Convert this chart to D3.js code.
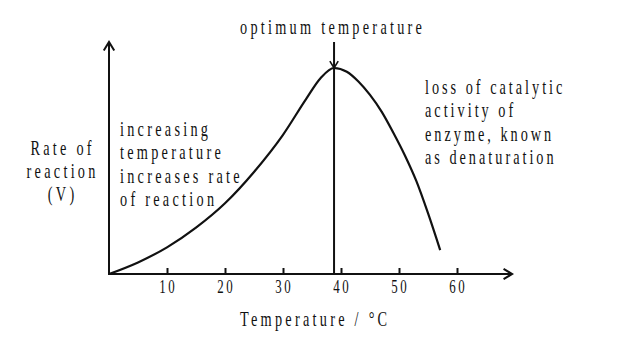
<!DOCTYPE html>
<html>
<head>
<meta charset="utf-8">
<script src="https://cdn.jsdelivr.net/npm/d3@7"></script>
<style>
  html, body { margin: 0; padding: 0; background: #fff; }
  svg { display: block; }
  .lbl { font-family: "Liberation Serif", "Times New Roman", serif; fill: #111; }
</style>
</head>
<body>
<svg id="chart" width="618" height="342"></svg>
<script>
// Enzyme activity vs temperature
const temperature = [0, 5, 10, 15, 20, 25, 30, 34, 36.5, 38.8, 41, 43, 45, 47, 49, 51, 53, 55, 57.1];
const rate        = [0, 0.5, 1.15, 2.0, 3.05, 4.4, 6.0, 7.55, 8.45, 8.88, 8.72, 8.3, 7.72, 7.0, 6.1, 5.12, 4.0, 2.62, 1.03];
const tickValues  = [10, 20, 30, 40, 50, 60];
const optimumTemp = 38.8;
const axisMaxTemp = 69.5;
const axisMaxRate = 10;

const svg = d3.select("#chart");
const x = d3.scaleLinear().domain([0, 60]).range([109, 457]);
const y = d3.scaleLinear().domain([0, axisMaxRate]).range([274, 42]);

const ink = "#111";

// open chevron arrowhead with its tip at (px,py), pointing along angle ang
function chevron(px, py, ang, len) {
  const a1 = ang + Math.PI - 0.55, a2 = ang + Math.PI + 0.55;
  return `M${px + len * Math.cos(a1)},${py + len * Math.sin(a1)}L${px},${py}L${px + len * Math.cos(a2)},${py + len * Math.sin(a2)}`;
}

// axes
svg.append("line").attr("x1", x(0)).attr("y1", y(0)).attr("x2", x(0)).attr("y2", y(axisMaxRate))
  .attr("stroke", ink).attr("stroke-width", 2);
svg.append("line").attr("x1", x(0) - 1).attr("y1", y(0)).attr("x2", x(axisMaxTemp)).attr("y2", y(0))
  .attr("stroke", ink).attr("stroke-width", 2);
svg.append("path").attr("d", chevron(x(0), y(axisMaxRate), -Math.PI / 2, 10))
  .attr("fill", "none").attr("stroke", ink).attr("stroke-width", 2);
svg.append("path").attr("d", chevron(x(axisMaxTemp), y(0), 0, 10))
  .attr("fill", "none").attr("stroke", ink).attr("stroke-width", 2);

// ticks point up from the axis
const xAxis = d3.axisTop(x).tickValues(tickValues).tickSize(6).tickFormat("");
const gx = svg.append("g").attr("transform", `translate(0,${y(0)})`).call(xAxis);
gx.select(".domain").remove();
gx.selectAll(".tick line").attr("stroke", ink).attr("stroke-width", 2);

// narrow, widely tracked serif text
function spacedText(parent, str, cx, cy, opts) {
  const o = Object.assign({ size: 21, sx: 0.68, ls: 4.8, anchor: "start" }, opts || {});
  const g = parent.append("g").attr("transform", `translate(${cx},${cy}) scale(${o.sx},1)`);
  const t = g.append("text").attr("class", "lbl").attr("x", 0).attr("y", 0)
    .attr("text-anchor", o.anchor)
    .style("font-size", o.size + "px")
    .style("letter-spacing", o.ls + "px")
    .text(str);
  if (o.anchor === "middle") t.attr("dx", o.ls / 2);
  return t;
}

tickValues.forEach(v => spacedText(svg, String(v), x(v), 293, { anchor: "middle", size: 19, ls: 4 }));

// rate curve
const pts = temperature.map((t, i) => [x(t), y(rate[i])]);
svg.append("path")
  .attr("d", d3.line().curve(d3.curveMonotoneX)(pts))
  .attr("fill", "none").attr("stroke", ink).attr("stroke-width", 2.2);

// optimum marker
const peakY = y(rate[temperature.indexOf(optimumTemp)]);
svg.append("line").attr("x1", x(optimumTemp)).attr("y1", y(axisMaxRate)).attr("x2", x(optimumTemp)).attr("y2", y(0))
  .attr("stroke", ink).attr("stroke-width", 2);
svg.append("path").attr("d", chevron(x(optimumTemp), peakY, Math.PI / 2, 8))
  .attr("fill", "none").attr("stroke", ink).attr("stroke-width", 1.6);

// annotations
spacedText(svg, "optimum  temperature", 240, 34);
spacedText(svg, "Temperature / °C", 240, 326);

["Rate of", "reaction", "(V)"].forEach((s, i) =>
  spacedText(svg, s, 61, 155 + i * 23, { anchor: "middle" }));

["increasing", "temperature", "increases rate", "of reaction"].forEach((s, i) =>
  spacedText(svg, s, 120, 136 + i * 23.3));

["loss of catalytic", "activity of", "enzyme, known", "as denaturation"].forEach((s, i) =>
  spacedText(svg, s, 425, 94 + i * 23.3, { ls: 4.4 }));
</script>
</body>
</html>
